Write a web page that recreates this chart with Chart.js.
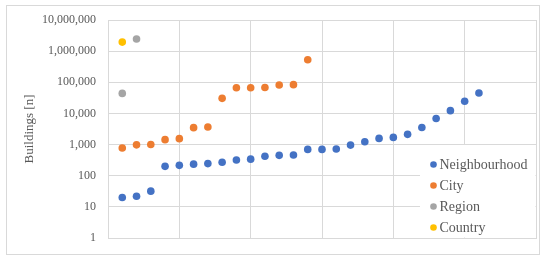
<!DOCTYPE html>
<html>
<head>
<meta charset="utf-8">
<script src="https://cdn.jsdelivr.net/npm/chart.js@4/dist/chart.umd.min.js"></script>
<style>
  html, body { margin: 0; padding: 0; background: #fff; }
  #wrap { position: relative; width: 550px; height: 259px; }
  #frame { position: absolute; left: 6px; top: 5px; width: 532px; height: 248px; border: 1px solid #d9d9d9; pointer-events: none; }
</style>
</head>
<body>
<div id="wrap">
  <canvas id="grafica" width="550" height="259"></canvas>
  <div id="frame"></div>
</div>
<script>
// buildings per spatial unit, ordered by rank (x = 1, 2, 3 ...)
var neighbourhood = [20, 22, 32, 200, 215, 235, 245, 270, 320, 340, 420, 450, 460,
  700, 700, 720, 960, 1230, 1580, 1700, 2130, 3550, 6900, 12300, 24500, 45500];
var city = [780, 980, 1010, 1440, 1550, 3500, 3650, 30500, 67000, 67000, 68000,
  82000, 84000, 530000];
var region = [44000, 2450000];
var country = [1950000];
var yTicks = [1, 10, 100, 1000, 10000, 100000, 1000000, 10000000];
var xTicks = [0, 5, 10, 15, 20, 25, 30];

function puntos(valores) {
  var out = [];
  for (var i = 0; i < valores.length; i++) {
    out.push({ x: i + 1, y: valores[i] });
  }
  return out;
}

var gris = '#d9d9d9';
var texto = '#595959';

// legend drawn inside the plot, bottom right, over a white box
var leyenda = {
  id: 'leyenda',
  afterDraw: function(chart) {
    var ctx = chart.ctx;
    var area = chart.chartArea;
    var x0 = 420, y0 = 145;
    ctx.save();
    ctx.fillStyle = '#fff';
    ctx.fillRect(x0, y0, area.right - x0 - 0.5, area.bottom - y0 - 0.5);
    ctx.font = '14px "Liberation Serif", serif';
    ctx.textBaseline = 'middle';
    var ds = chart.data.datasets;
    for (var i = 0; i < ds.length; i++) {
      var cy = 164.5 + i * 21;
      ctx.fillStyle = ds[i].backgroundColor;
      ctx.beginPath();
      ctx.arc(433.5, cy, 3.3, 0, Math.PI * 2);
      ctx.fill();
      ctx.fillStyle = texto;
      ctx.fillText(ds[i].label, 439.5, cy + 0.5);
    }
    ctx.restore();
  }
};

var ctx = document.getElementById('grafica').getContext('2d');
var chart = new Chart(ctx, {
  type: 'scatter',
  data: {
    datasets: [
      { label: 'Neighbourhood', data: puntos(neighbourhood), backgroundColor: '#4472C4', borderColor: '#4472C4' },
      { label: 'City', data: puntos(city), backgroundColor: '#ED7D31', borderColor: '#ED7D31' },
      { label: 'Region', data: puntos(region), backgroundColor: '#A5A5A5', borderColor: '#A5A5A5' },
      { label: 'Country', data: puntos(country), backgroundColor: '#FFC000', borderColor: '#FFC000' }
    ]
  },
  options: {
    responsive: false,
    animation: false,
    layout: { padding: { left: 0, top: 20, right: 14, bottom: 21 } },
    elements: { point: { radius: 3.8, borderWidth: 0, hoverRadius: 3.8 } },
    plugins: {
      legend: { display: false },
      tooltip: { enabled: false }
    },
    scales: {
      x: {
        type: 'linear',
        min: 0,
        max: 30,
        afterBuildTicks: function(scale) {
          scale.ticks = xTicks.map(function(v) { return { value: v }; });
        },
        afterFit: function(scale) { scale.height = 0; },
        ticks: { display: false },
        grid: { color: gris, drawTicks: false },
        border: { display: true, color: gris }
      },
      y: {
        type: 'logarithmic',
        min: 1,
        max: 10000000,
        afterBuildTicks: function(scale) {
          scale.ticks = yTicks.map(function(v) { return { value: v }; });
        },
        afterFit: function(scale) { scale.width = 108; },
        ticks: {
          padding: 12,
          color: texto,
          font: { family: '"Liberation Serif", serif', size: 12 },
          callback: function(v) { return Number(v).toLocaleString('en-US'); }
        },
        grid: { color: gris, drawTicks: false },
        border: { display: true, color: gris },
        title: {
          display: true,
          text: 'Buildings [n]',
          color: texto,
          font: { family: '"Liberation Serif", serif', size: 13 },
          padding: { top: 22, bottom: 0 }
        }
      }
    }
  },
  plugins: [leyenda]
});
</script>
</body>
</html>
